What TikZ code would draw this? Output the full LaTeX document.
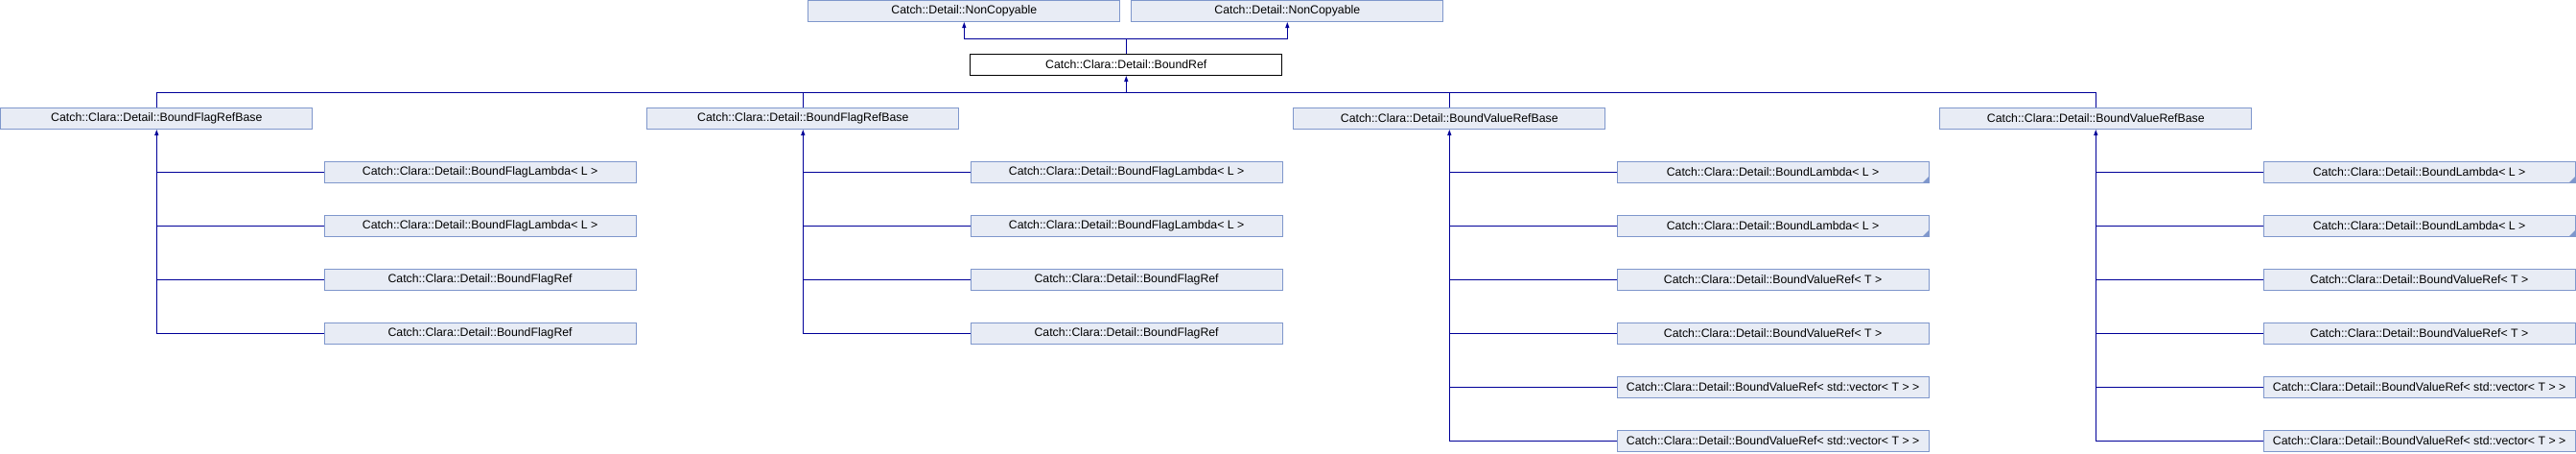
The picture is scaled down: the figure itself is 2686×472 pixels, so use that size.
\documentclass[tikz,border=0pt]{standalone}
\usepackage{fontspec}
\setmainfont{Liberation Sans}
\usetikzlibrary{arrows.meta}
\definecolor{boxfill}{HTML}{E8ECF5}
\definecolor{boxline}{HTML}{7F97CC}
\definecolor{edgeblue}{HTML}{000099}

\begin{document}
\begin{tikzpicture}[x=1pt, y=-1pt, font=\fontsize{12.3}{14}\selectfont]
  \tikzset{
    classbox/.style={draw=boxline, fill=boxfill, line width=1pt, minimum width=325pt, minimum height=22pt, inner sep=0pt},
    thisbox/.style={classbox, draw=black, fill=white},
    inherit/.style={draw=edgeblue, line width=1pt},
    isa/.style={inherit, {Triangle[width=4pt,length=6pt]}-},
    templ/.style={path picture={\fill[boxline] (path picture bounding box.south east) -- ++(-6.5pt,0pt) -- ++(6.5pt,6.5pt) -- cycle;}}
  }
  \useasboundingbox (0,0) rectangle (2686,472);
  % top of the hierarchy
  \node[classbox] (nc-1) at (1005.3,11.5) {Catch::Detail::NonCopyable};
  \node[classbox] (nc-2) at (1342.3,11.5) {Catch::Detail::NonCopyable};
  \node[thisbox] (boundref) at (1174.3,67.5) {Catch::Clara::Detail::BoundRef};
  \coordinate (top-bus) at (1174.3,40);
  \coordinate (mid-bus) at (1174.3,96);
  % the four bases
  \foreach \i/\name in {1/BoundFlagRefBase, 2/BoundFlagRefBase, 3/BoundValueRefBase, 4/BoundValueRefBase}
    \node[classbox] (base-\i) at ({163.3+674*(\i-1)},123.5) {Catch::Clara::Detail::\name};
  % derived classes
  \foreach \i in {1,2} {
    \foreach \j/\name in {1/BoundFlagLambda<\ L\ >, 2/BoundFlagLambda<\ L\ >, 3/BoundFlagRef, 4/BoundFlagRef}
      \node[classbox] (child-\i-\j) at ({500.6+674*(\i-1)},{123.5+56*\j}) {Catch::Clara::Detail::\name};
  }
  \foreach \i in {3,4} {
    \foreach \j/\name/\mark in {1/BoundLambda<\ L\ >/templ, 2/BoundLambda<\ L\ >/templ, 3/BoundValueRef<\ T\ >/, 4/BoundValueRef<\ T\ >/,
        5/BoundValueRef< std::vector< T > >/, 6/BoundValueRef< std::vector< T > >/}
      \node[classbox, \mark] (child-\i-\j) at ({500.6+674*(\i-1)},{123.5+56*\j}) {Catch::Clara::Detail::\name};
  }
  % inheritance lines
  \draw[isa] (nc-1.south) -- (nc-1.south |- top-bus) -- (top-bus);
  \draw[isa] (nc-2.south) -- (nc-2.south |- top-bus) -- (top-bus);
  \draw[inherit] (boundref.north) -- (top-bus);
  \draw[isa] (boundref.south) -- (mid-bus);
  \foreach \i in {1,...,4}
    \draw[inherit] (base-\i.north) -- (base-\i.north |- mid-bus) -- (mid-bus);
  \foreach \i/\n in {1/4, 2/4, 3/6, 4/6} {
    \draw[isa] (base-\i.south) -- (base-\i.south |- child-\i-\n.west) -- (child-\i-\n.west);
    \foreach \j in {1,...,\n}
      \draw[inherit] (child-\i-\j.west) -- (base-\i.south |- child-\i-\j.west);
  }
\end{tikzpicture}
\end{document}
